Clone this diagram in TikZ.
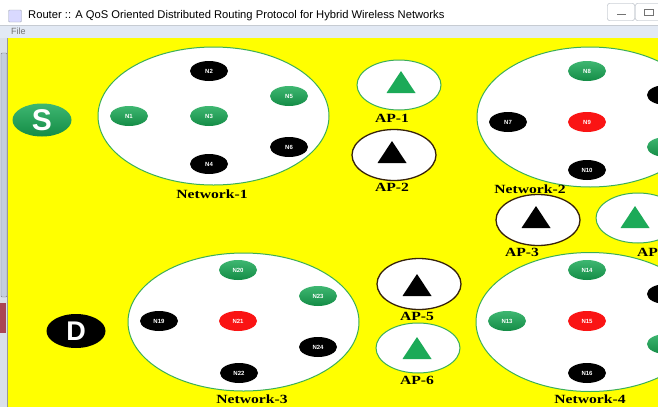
\documentclass[tikz,border=0pt]{standalone}
\usepackage{fontspec}
\usepackage{graphicx}
\setmainfont{Liberation Serif}
\newfontfamily\uisans{Liberation Sans}
\usetikzlibrary{shapes.geometric}
\definecolor{bgyellow}{RGB}{255,255,0}
\definecolor{ngreen}{RGB}{28,170,88}
\definecolor{ngreenb}{RGB}{20,140,70}
\definecolor{nred}{RGB}{250,20,20}
\definecolor{ogreen}{RGB}{60,175,85}
\definecolor{odark}{RGB}{55,35,10}
\definecolor{menubg}{RGB}{226,233,244}
\definecolor{stripbg}{RGB}{218,224,234}
\definecolor{thumbbg}{RGB}{196,206,222}
\definecolor{redbit}{RGB}{170,70,85}
\definecolor{btnline}{RGB}{160,168,180}
\newcommand\wlab[1]{\scalebox{1.25}[1]{#1}}
\begin{document}
\begin{tikzpicture}[x=1pt,y=-1pt,
  nd/.style={ellipse, minimum width=38pt, minimum height=20pt, inner sep=0pt,
    font=\uisans\bfseries\fontsize{6}{7}\selectfont, text=white},
  gnd/.style={nd, top color=ngreen!85!white, bottom color=ngreenb},
  bnd/.style={nd, fill=black},
  rnd/.style={nd, fill=nred},
  netw/.style={ellipse, draw=ogreen, line width=1pt, fill=white, inner sep=0pt},
  apg/.style={ellipse, draw=ogreen, line width=1pt, fill=white, inner sep=0pt,
    minimum width=84pt, minimum height=50pt},
  apd/.style={ellipse, draw=odark, line width=1.3pt, fill=white, inner sep=0pt,
    minimum width=84pt, minimum height=51pt},
  lbl/.style={font=\bfseries\fontsize{12.5}{14}\selectfont, inner sep=0pt},
  tri/.pic={\path[pic actions] (-14.5,11) -- (14.5,11) -- (0,-11) -- cycle;}
]
\useasboundingbox (0,0) rectangle (658,407);
\clip (0,0) rectangle (658,407);
% window chrome
\fill[white] (0,0) rectangle (658,25);
\fill[menubg] (0,25) rectangle (658,38);
\draw[btnline!60] (0,25) -- (658,25);
\node[draw=btnline, fill=white!85!blue, rounded corners=1pt, minimum width=13pt, minimum height=12pt, inner sep=0pt] (icon) at (15,16) {};
\node[anchor=west, inner sep=0pt, font=\uisans\fontsize{11.2}{13}\selectfont] (title) at (28,16) {Router :: A QoS Oriented Distributed Routing Protocol for Hybrid Wireless Networks};
\node[anchor=west, inner sep=0pt, text=black!55, font=\uisans\fontsize{9}{10}\selectfont] (file) at (11,31) {File};
\node[draw=btnline, rounded corners=2pt, fill=white, minimum width=27pt, minimum height=17pt, inner sep=0pt] (bmin) at (621,12) {};
\node[draw=btnline, rounded corners=2pt, fill=white, minimum width=27pt, minimum height=17pt, inner sep=0pt] (bmax) at (649,12) {};
\draw[black!55, line width=1pt] (617,14) -- (626,14);
\draw[black!55, line width=0.8pt] (644,9) rectangle (653,15);
% canvas
\fill[bgyellow] (8,38) rectangle (658,407);
\fill[stripbg] (0,38) rectangle (8,407);
\draw[black!50, rounded corners=1pt, fill=thumbbg] (1,53) rectangle (7,297);
\fill[redbit] (0,303) rectangle (6,333);
\draw[black!40] (7.5,38) -- (7.5,407);
% S and D
\node[ellipse, minimum width=59pt, minimum height=33pt, inner sep=0pt, top color=ngreen!85!white, bottom color=ngreenb, text=white, font=\uisans\bfseries\fontsize{30}{30}\selectfont] (S) at (42,120) {S};
\node[ellipse, minimum width=59pt, minimum height=34pt, inner sep=0pt, fill=black, text=white, font=\uisans\bfseries\fontsize{27}{27}\selectfont] (D) at (76,331) {D};
% networks
\node[netw, minimum width=231pt, minimum height=138pt] (net1) at (213.5,116) {};
\node[netw, minimum width=226pt, minimum height=140pt] (net2) at (590,117) {};
\node[netw, minimum width=231pt, minimum height=138pt] (net3) at (243.5,322) {};
\node[netw, minimum width=228pt, minimum height=139pt] (net4) at (590,322) {};
% network 1 nodes
\node[gnd] (n1) at (129,116) {N1};
\node[bnd] (n2) at (209,71) {N2};
\node[gnd] (n3) at (209,116) {N3};
\node[bnd] (n4) at (209,164) {N4};
\node[gnd] (n5) at (289,96) {N5};
\node[bnd] (n6) at (289,147) {N6};
% network 2 nodes
\node[bnd] (n7) at (508,122) {N7};
\node[gnd] (n8) at (587,71) {N8};
\node[rnd] (n9) at (587,122) {N9};
\node[bnd] (n10) at (587,170) {N10};
\node[bnd] (n11) at (666,95) {};
\node[gnd] (n12) at (666,147) {};
% network 4 nodes
\node[gnd] (n13) at (507,321) {N13};
\node[gnd] (n14) at (587,270) {N14};
\node[rnd] (n15) at (587,321) {N15};
\node[bnd] (n16) at (587,373) {N16};
\node[bnd] (n17) at (666,294) {};
\node[gnd] (n18) at (666,344) {};
% network 3 nodes
\node[bnd] (n19) at (159,321) {N19};
\node[gnd] (n20) at (238,270) {N20};
\node[rnd] (n21) at (238,321) {N21};
\node[bnd] (n22) at (239,373) {N22};
\node[gnd] (n23) at (318,296) {N23};
\node[bnd] (n24) at (318,347) {N24};
% network labels
\node[lbl] (l1) at (212,194) {\wlab{Network-1}};
\node[lbl] (l2) at (530,189) {\wlab{Network-2}};
\node[lbl] (l3) at (252,399) {\wlab{Network-3}};
\node[lbl] (l4) at (590,399) {\wlab{Network-4}};
% access points
\node[apg] (ap1) at (399,85) {};
\node[apd] (ap2) at (394,155) {};
\node[apd] (ap3) at (538,220) {};
\node[apg] (ap4) at (638,218) {};
\node[apd] (ap5) at (419,284) {};
\node[apg] (ap6) at (418,348) {};
\pic[fill=ngreen] at (401,82) {tri};
\pic[fill=black] at (392,152) {tri};
\pic[fill=black] at (536,217) {tri};
\pic[fill=ngreen] at (635,217) {tri};
\pic[fill=black] at (417,285) {tri};
\pic[fill=ngreen] at (417,348) {tri};
\node[lbl] (a1) at (392,118) {\wlab{AP-1}};
\node[lbl] (a2) at (392,187) {\wlab{AP-2}};
\node[lbl] (a3) at (522,252) {\wlab{AP-3}};
\node[lbl, anchor=west] (a4) at (637,252) {\wlab{AP-4}};
\node[lbl] (a5) at (417,316) {\wlab{AP-5}};
\node[lbl] (a6) at (417,380) {\wlab{AP-6}};
\end{tikzpicture}
\end{document}
